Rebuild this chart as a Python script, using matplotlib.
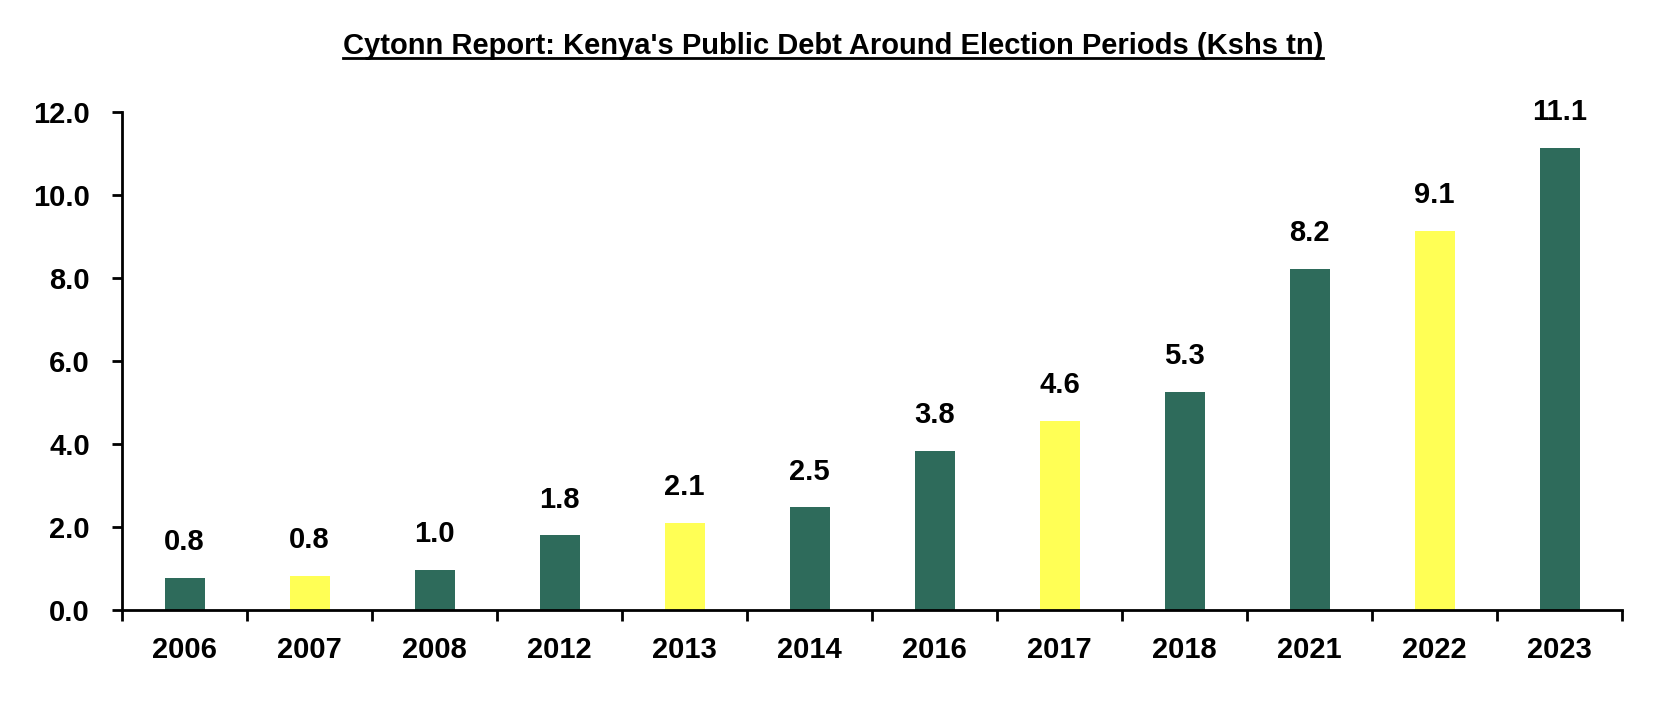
import matplotlib
matplotlib.use('Agg')
import matplotlib.pyplot as plt
import numpy as np
from matplotlib.lines import Line2D

# data
years = ['2006', '2007', '2008', '2012', '2013', '2014', '2016', '2017', '2018', '2021', '2022', '2023']
debt = [0.77, 0.82, 0.97, 1.80, 2.10, 2.47, 3.83, 4.56, 5.26, 8.21, 9.13, 11.13]
election_year = [False, True, False, False, True, False, False, True, False, False, True, False]

GREEN = '#2E6B5B'
YELLOW = '#FFFF55'

plt.rcParams['font.family'] = ['Liberation Sans', 'DejaVu Sans']
plt.rcParams['font.weight'] = 'bold'

fig = plt.figure(figsize=(16.76, 7.04), dpi=100)
ax = fig.add_axes([0.0728, 0.1335, 0.8950, 0.7075])

x = np.arange(len(years))
colors = [YELLOW if e else GREEN for e in election_year]
ax.bar(x, debt, width=0.32, color=colors, zorder=2)

for xi, v in zip(x, debt):
    ax.annotate(f'{v:.1f}', (xi, v), xytext=(0, 20), textcoords='offset points',
                ha='center', va='baseline', fontsize=21, fontweight='bold')

ax.set_xlim(-0.5, len(years) - 0.5)
ax.set_ylim(0, 12)
yt = np.arange(0, 12.1, 2)
ax.set_yticks(yt)
ax.set_yticklabels([f'{t:.1f}' for t in yt], fontsize=21, fontweight='bold')

# ticks at category boundaries, labels centred
ax.set_xticks(np.arange(-0.5, len(years), 1.0))
ax.set_xticklabels([])
ax.set_xticks(x, minor=True)
ax.set_xticklabels(years, minor=True, fontsize=21, fontweight='bold')
ax.tick_params(axis='x', which='minor', length=0, pad=19)
ax.tick_params(axis='x', which='major', length=8, width=2, direction='out')
ax.tick_params(axis='y', length=7, width=2, direction='out', pad=16)

for s in ['top', 'right']:
    ax.spines[s].set_visible(False)
for s in ['left', 'bottom']:
    ax.spines[s].set_linewidth(2)

title = fig.text(0.497, 0.935, "Cytonn Report: Kenya's Public Debt Around Election Periods (Kshs tn)",
                 ha='center', va='center', fontsize=21, fontweight='bold')

# underline the title
fig.canvas.draw()
bb = title.get_window_extent().transformed(fig.transFigure.inverted())
fig.add_artist(Line2D([bb.x0, bb.x1], [bb.y0 + 0.003, bb.y0 + 0.003], color='black', lw=2,
                      transform=fig.transFigure))

fig.savefig('out.png', dpi=100)
